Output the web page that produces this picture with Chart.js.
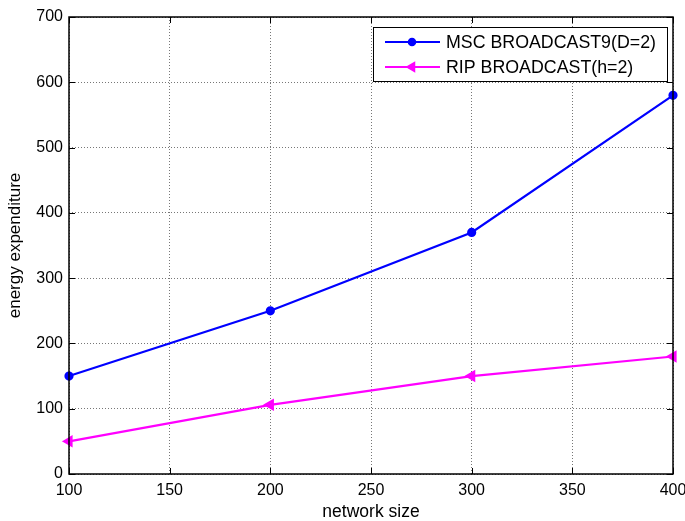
<!DOCTYPE html>
<html><head><meta charset="utf-8">
<script src="https://cdn.jsdelivr.net/npm/chart.js@4/dist/chart.umd.min.js"></script>
<style>html,body{margin:0;padding:0;background:#fff;}canvas{display:block;}</style>
</head><body>
<canvas id="c" width="685" height="521"></canvas>
<script>
const networkSize = [100, 200, 300, 400];
const mscBroadcast = [150, 250, 370, 580];
const ripBroadcast = [50, 106, 150, 180];
const xTicks = [100, 150, 200, 250, 300, 350, 400];
const yTicks = [0, 100, 200, 300, 400, 500, 600, 700];
const seriesLabels = ['MSC BROADCAST9(D=2)', 'RIP BROADCAST(h=2)'];

const FONT = 'Liberation Sans, Arial, sans-serif';

const framePlugin = {
  id: 'frame',
  afterDraw(chart) {
    const {ctx, chartArea: a, scales} = chart;
    ctx.save();
    ctx.strokeStyle = '#000';
    ctx.lineWidth = 1.5;
    ctx.strokeRect(a.left, a.top, a.right - a.left, a.bottom - a.top);
    ctx.lineWidth = 1;
    const t = 6;
    ctx.beginPath();
    xTicks.forEach(v => {
      const x = Math.round(scales.x.getPixelForValue(v)) + 0.5;
      ctx.moveTo(x, a.bottom); ctx.lineTo(x, a.bottom - t);
      ctx.moveTo(x, a.top); ctx.lineTo(x, a.top + t);
    });
    yTicks.forEach(v => {
      const y = Math.round(scales.y.getPixelForValue(v)) + 0.5;
      ctx.moveTo(a.left, y); ctx.lineTo(a.left + t, y);
      ctx.moveTo(a.right, y); ctx.lineTo(a.right - t, y);
    });
    ctx.stroke();
    // legend
    const lx = 373, ly = 27, lw = 294, lh = 54;
    ctx.fillStyle = '#fff';
    ctx.fillRect(lx, ly, lw, lh);
    ctx.lineWidth = 1;
    ctx.strokeStyle = '#000';
    ctx.strokeRect(lx + 0.5, ly + 0.5, lw, lh);
    ctx.font = '17.8px ' + FONT;
    ctx.textBaseline = 'middle';
    chart.data.datasets.forEach((ds, i) => {
      const y = ly + 15 + i * 25;
      ctx.strokeStyle = ds.borderColor;
      ctx.lineWidth = 2;
      ctx.beginPath(); ctx.moveTo(385, y); ctx.lineTo(440, y); ctx.stroke();
      ctx.fillStyle = ds.pointBackgroundColor;
      ctx.strokeStyle = ds.pointBorderColor;
      ctx.lineWidth = 1.5;
      Chart.helpers.drawPoint(ctx, {
        pointStyle: ds.pointStyle, rotation: ds.pointRotation || 0,
        radius: ds.pointRadius, borderWidth: 1.5
      }, 412, y);
      ctx.fillStyle = '#000';
      ctx.fillText(ds.label, 446, y + 1);
    });
    ctx.restore();
  }
};

new Chart(document.getElementById('c'), {
  type: 'line',
  data: {
    datasets: [
      {
        label: seriesLabels[0],
        data: networkSize.map((x, i) => ({x, y: mscBroadcast[i]})),
        borderColor: '#0000ff', backgroundColor: '#0000ff',
        pointBackgroundColor: '#0000ff', pointBorderColor: '#0000ff',
        pointStyle: 'circle', pointRadius: 3.5, borderWidth: 2.2, tension: 0
      },
      {
        label: seriesLabels[1],
        data: networkSize.map((x, i) => ({x, y: ripBroadcast[i]})),
        borderColor: '#ff00ff', backgroundColor: '#ff00ff',
        pointBackgroundColor: '#ff00ff', pointBorderColor: '#ff00ff',
        pointStyle: 'triangle', pointRotation: -90, pointRadius: 5, borderWidth: 2.2, tension: 0
      }
    ]
  },
  options: {
    responsive: false,
    animation: false,
    clip: false,
    layout: {padding: {top: 17, right: 12, left: 0, bottom: 0}},
    plugins: {legend: {display: false}, tooltip: {enabled: false}},
    scales: {
      x: {
        type: 'linear', min: 100, max: 400,
        afterBuildTicks: s => { s.ticks = xTicks.map(v => ({value: v})); },
        afterFit: s => { s.height = 47; s.paddingLeft = 0; s.paddingRight = 0; },
        ticks: {color: '#000', font: {family: FONT, size: 16}, padding: 7, maxRotation: 0, autoSkip: false},
        grid: {color: '#777', lineWidth: 1, drawTicks: false},
        border: {display: false, dash: [1, 2]},
        title: {display: true, text: 'network size', color: '#000', font: {family: FONT, size: 17.5}, padding: {top: 0, bottom: -2}}
      },
      y: {
        min: 0, max: 700,
        afterBuildTicks: s => { s.ticks = yTicks.map(v => ({value: v})); },
        afterFit: s => { s.width = 69; s.paddingTop = 0; s.paddingBottom = 0; },
        ticks: {color: '#000', font: {family: FONT, size: 16}, padding: 6, autoSkip: false},
        grid: {color: '#777', lineWidth: 1, drawTicks: false},
        border: {display: false, dash: [1, 2]},
        title: {display: true, text: 'energy expenditure', color: '#000', font: {family: FONT, size: 17}, padding: {top: 5, bottom: 0}}
      }
    }
  },
  plugins: [framePlugin]
});
</script>
</body></html>
